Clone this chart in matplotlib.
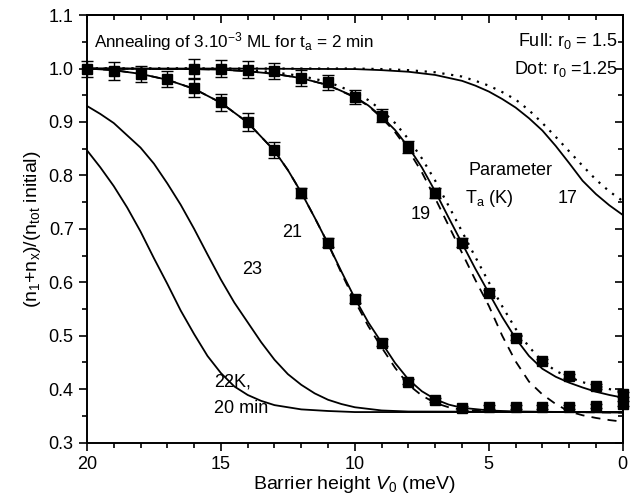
import matplotlib
matplotlib.use('Agg')
import matplotlib.pyplot as plt
from matplotlib.ticker import MultipleLocator

plt.rcParams['font.family'] = ['Liberation Sans', 'DejaVu Sans']
plt.rcParams['mathtext.fontset'] = 'custom'
plt.rcParams['mathtext.rm'] = 'Liberation Sans'
plt.rcParams['mathtext.it'] = 'Liberation Sans:italic'

# measured points (T_a = 21 K and 19 K)
x_21 = [20, 19, 18, 17, 16, 15, 14, 13, 12, 11, 10, 9, 8, 7, 6, 5, 4, 3, 2, 1, 0]
y_21 = [1.0, 0.996, 0.99, 0.98, 0.963, 0.937, 0.90, 0.847, 0.767, 0.674, 0.569,
        0.487, 0.414, 0.38, 0.364, 0.367, 0.366, 0.366, 0.367, 0.369, 0.373]
e_21 = [0.015, 0.017, 0.015, 0.015, 0.017, 0.016, 0.016, 0.015, 0.01, 0.008, 0.008,
        0.006, 0.005, 0.004, 0.004, 0.004, 0.004, 0.004, 0.004, 0.004, 0.004]

x_19 = [16, 15, 14, 13, 12, 11, 10, 9, 8, 7, 6, 5, 4, 3, 2, 1, 0]
y_19 = [1.0, 1.0, 0.998, 0.996, 0.983, 0.974, 0.946, 0.912, 0.853, 0.767, 0.674,
        0.58, 0.496, 0.452, 0.424, 0.405, 0.39]
e_19 = [0.017, 0.016, 0.016, 0.015, 0.015, 0.014, 0.013, 0.012, 0.011, 0.01, 0.008,
        0.006, 0.005, 0.004, 0.004, 0.004, 0.004]

# simulated curves
xc_17 = [20, 15, 10, 9, 8, 7, 6, 5.5, 5, 4.5, 4, 3.5, 3, 2.5, 2, 1.5, 1, 0.5, 0]
y_17_full = [1.0, 1.0, 0.999, 0.997, 0.994, 0.988, 0.977, 0.968, 0.957, 0.943, 0.927,
             0.907, 0.884, 0.855, 0.823, 0.79, 0.765, 0.744, 0.726]
y_17_dot = [1.0, 1.0, 1.0, 0.999, 0.997, 0.993, 0.985, 0.977, 0.968, 0.956, 0.942,
            0.922, 0.898, 0.872, 0.845, 0.818, 0.792, 0.77, 0.752]

xc_19 = [20, 16, 15, 14, 13, 12, 11, 10, 9.5, 9, 8.5, 8, 7.5, 7, 6.5, 6, 5.5, 5,
         4.5, 4, 3.5, 3, 2.5, 2, 1.5, 1, 0.5, 0]
y_19_full = [1.0, 0.999, 0.998, 0.995, 0.99, 0.982, 0.969, 0.947, 0.931, 0.91, 0.885,
             0.853, 0.815, 0.77, 0.721, 0.673, 0.625, 0.58, 0.535, 0.495, 0.462, 0.438,
             0.423, 0.412, 0.403, 0.395, 0.389, 0.384]
y_19_dot = [1.0, 1.0, 0.999, 0.997, 0.993, 0.986, 0.975, 0.955, 0.941, 0.922, 0.898,
            0.868, 0.832, 0.79, 0.743, 0.695, 0.647, 0.6, 0.555, 0.513, 0.479, 0.452,
            0.434, 0.422, 0.413, 0.406, 0.4, 0.395]
y_19_dash = [1.0, 0.999, 0.998, 0.995, 0.99, 0.982, 0.969, 0.946, 0.93, 0.908, 0.881,
             0.847, 0.806, 0.757, 0.706, 0.655, 0.604, 0.556, 0.50, 0.452, 0.414, 0.39,
             0.372, 0.358, 0.351, 0.346, 0.342, 0.339]

xc_21 = [20, 19, 18, 17, 16, 15, 14, 13, 12.5, 12, 11.5, 11, 10.5, 10, 9.5, 9, 8.5,
         8, 7.5, 7, 6.5, 6, 5, 4, 2, 0]
y_21_full = [1.0, 0.997, 0.99, 0.979, 0.962, 0.936, 0.899, 0.846, 0.81, 0.768, 0.721,
             0.672, 0.62, 0.57, 0.525, 0.487, 0.449, 0.418, 0.396, 0.381, 0.371, 0.365,
             0.36, 0.358, 0.357, 0.356]
y_21_dash = [1.0, 0.997, 0.99, 0.979, 0.962, 0.936, 0.899, 0.846, 0.81, 0.768, 0.721,
             0.672, 0.617, 0.565, 0.518, 0.478, 0.44, 0.408, 0.388, 0.374, 0.366, 0.361,
             0.358, 0.357, 0.357, 0.356]

xc_23 = [20, 19.5, 19, 18.5, 18, 17.5, 17, 16.5, 16, 15.5, 15, 14.5, 14, 13.5, 13,
         12.5, 12, 11.5, 11, 10.5, 10, 9, 8, 0]
y_23 = [0.93, 0.915, 0.898, 0.875, 0.852, 0.822, 0.785, 0.745, 0.70, 0.652, 0.605,
        0.562, 0.525, 0.488, 0.455, 0.428, 0.408, 0.392, 0.38, 0.372, 0.366, 0.36,
        0.358, 0.357]

xc_22 = [20, 19.5, 19, 18.5, 18, 17.5, 17, 16.5, 16, 15.5, 15, 14.5, 14, 13.5, 13,
         12, 11, 10, 0]
y_22 = [0.847, 0.815, 0.78, 0.74, 0.695, 0.645, 0.597, 0.547, 0.503, 0.462, 0.43,
        0.405, 0.389, 0.378, 0.37, 0.362, 0.359, 0.357, 0.357]

fig = plt.figure(figsize=(6.44, 5.04), dpi=100)
ax = fig.add_axes([0.135, 0.122, 0.832, 0.848])

lw = 1.3
ax.plot(xc_17, y_17_full, 'k-', lw=lw)
ax.plot(xc_17, y_17_dot, 'k', ls=(0, (1, 3)), lw=1.6)
ax.plot(xc_19, y_19_full, 'k-', lw=lw)
ax.plot(xc_19, y_19_dot, 'k', ls=(0, (1, 3)), lw=1.6)
ax.plot(xc_19, y_19_dash, 'k', ls=(0, (5, 4)), lw=lw)
ax.plot(xc_21, y_21_full, 'k-', lw=lw)
ax.plot(xc_21, y_21_dash, 'k', ls=(0, (5, 4)), lw=lw)
ax.plot(xc_23, y_23, 'k-', lw=lw)
ax.plot(xc_22, y_22, 'k-', lw=lw)

for xs, ys, es in [(x_21, y_21, e_21), (x_19, y_19, e_19)]:
    ax.errorbar(xs, ys, yerr=es, fmt='s', color='k', ms=7.5, capsize=4,
                elinewidth=1.0, capthick=1.0, clip_on=False, zorder=5)

ax.set_xlim(20, 0)
ax.set_ylim(0.3, 1.1)
ax.xaxis.set_major_locator(MultipleLocator(5))
ax.xaxis.set_minor_locator(MultipleLocator(1))
ax.yaxis.set_major_locator(MultipleLocator(0.1))
ax.yaxis.set_minor_locator(MultipleLocator(0.05))
ax.tick_params(which='both', direction='out', labelsize=13, width=1.2)
ax.tick_params(which='major', length=6)
ax.tick_params(which='minor', length=3.5)
ax.set_xticks([20, 15, 10, 5, 0])
ax.set_xticklabels(['20', '15', '10', '5', '0'])

for side in ['top', 'right']:
    if side == 'top':
        sec = ax.secondary_xaxis('top')
        sec.xaxis.set_major_locator(MultipleLocator(5))
        sec.xaxis.set_minor_locator(MultipleLocator(1))
        sec.tick_params(which='both', direction='in', labeltop=False, width=1.2)
    else:
        sec = ax.secondary_yaxis('right')
        sec.yaxis.set_major_locator(MultipleLocator(0.1))
        sec.yaxis.set_minor_locator(MultipleLocator(0.05))
        sec.tick_params(which='both', direction='in', labelright=False, width=1.2)
    sec.tick_params(which='major', length=6)
    sec.tick_params(which='minor', length=3.5)
    for s in sec.spines.values():
        s.set_linewidth(1.4)

for s in ax.spines.values():
    s.set_linewidth(1.4)

ax.set_xlabel('Barrier height $\\mathit{V}_0$ (meV)', fontsize=14, labelpad=1)
ax.set_ylabel('(n$_1$+n$_\\mathrm{x}$)/(n$_\\mathrm{tot}$ initial)', fontsize=14, labelpad=4)

fs = 13
ax.text(19.75, 1.05, 'Annealing of 3.10$^{-3}$ ML for t$_\\mathrm{a}$ = 2 min', fontsize=12.3,
        va='center', ha='left')
ax.text(0.2, 1.052, 'Full: r$_0$ = 1.5', fontsize=fs, va='center', ha='right')
ax.text(0.2, 1.0, 'Dot: r$_0$ =1.25', fontsize=fs, va='center', ha='right')
ax.text(4.2, 0.81, 'Parameter', fontsize=fs, va='center', ha='center')
ax.text(5.0, 0.757, 'T$_\\mathrm{a}$ (K)', fontsize=fs, va='center', ha='center')
ax.text(2.05, 0.757, '17', fontsize=fs, va='center', ha='center')
ax.text(7.55, 0.727, '19', fontsize=fs, va='center', ha='center')
ax.text(12.35, 0.694, '21', fontsize=fs, va='center', ha='center')
ax.text(13.85, 0.623, '23', fontsize=fs, va='center', ha='center')
ax.text(15.25, 0.413, '22K,', fontsize=fs, va='center', ha='left')
ax.text(15.25, 0.363, '20 min', fontsize=fs, va='center', ha='left')

fig.savefig('out.png', dpi=100)
